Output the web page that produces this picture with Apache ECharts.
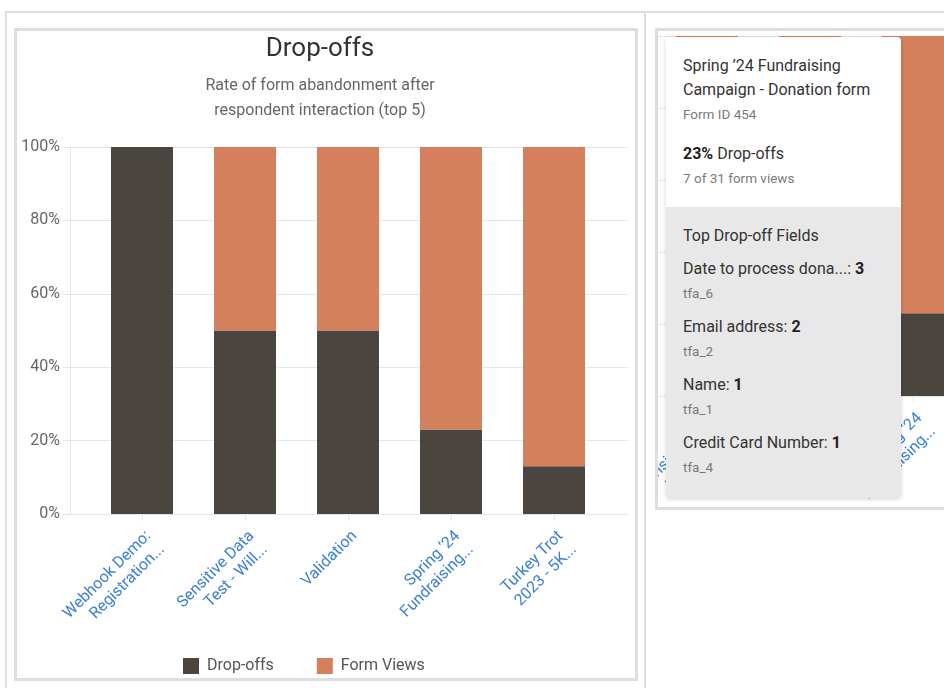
<!DOCTYPE html>
<html>
<head>
<meta charset="utf-8">
<title>Drop-offs</title>
<script src="https://cdn.jsdelivr.net/npm/echarts@6/dist/echarts.min.js"></script>
<style>
  html, body { margin: 0; padding: 0; background: #fff; }
  body { width: 944px; height: 688px; position: relative; overflow: hidden; font-family: Roboto, "Noto Sans", sans-serif; }
  .rule { position: absolute; background: #dedede; }
  .card { position: absolute; border: 3px solid #dedede; background: #fff; overflow: hidden; box-sizing: content-box; }
  #mainChart { position: absolute; left: 0; top: 0; width: 618px; height: 647px; }
  #sideChart { position: absolute; left: -158px; top: 0; width: 650px; height: 476px; }
  .tip { position: absolute; left: 666px; top: 37px; width: 235px; height: 461px; border-radius: 4px;
         box-shadow: 0 1px 4px rgba(0,0,0,0.18); overflow: hidden; color: #333; font-size: 16px; }
  .tip .head { background: #fff; padding: 17px 17px 17px 17px; }
  .tip .body { background: #e8e8e8; padding: 17px 17px 0 17px; height: 300px; }
  .tip .l { line-height: 24px; white-space: nowrap; }
  .tip .s { font-size: 13.5px; color: #7a7a7a; line-height: 24px; }
  .tip .gap { height: 16px; }
  .tip .f { margin-top: 8px; }
  .tip .f .l, .tip .f .s { line-height: 25px; }
  .tip b { font-weight: 700; color: #222; }
</style>
</head>
<body>
<div class="rule" style="left:5px;top:11px;width:939px;height:2px"></div>
<div class="rule" style="left:5px;top:11px;width:2px;height:677px"></div>
<div class="rule" style="left:644px;top:11px;width:2px;height:677px"></div>

<div class="card" style="left:14px;top:28px;width:618px;height:647px">
  <div id="mainChart"></div>
</div>
<div class="card" style="left:655px;top:28px;width:300px;height:476px;border-right:none">
  <div id="sideChart"></div>
</div>
<div class="tip" id="tip"></div>

<script>
// Drop-off rates (percent of form views) for the top five forms
const categories = [
  'Webhook Demo:\nRegistration...',
  'Sensitive Data\nTest - Will...',
  'Validation',
  'Spring \u201924\nFundraising...',
  'Turkey Trot\n2023 - 5K...'
];
const dropOffs = [100, 50, 50, 23, 13];
const formViews = [0, 50, 50, 77, 87];
const seriesNames = ['Drop-offs', 'Form Views'];
const yMin = 0, yMax = 100, yStep = 20;

// Detail card for the hovered form
const tipTitleLines = ['Spring \u201924 Fundraising', 'Campaign - Donation form'];
const tipFormId = 'Form ID 454';
const tipDropped = 7;
const tipViews = 31;
const tipRate = 23;
const tipFieldNames = ['Date to process dona...', 'Email address', 'Name', 'Credit Card Number'];
const tipFieldCounts = [3, 2, 1, 1];
const tipFieldIds = ['tfa_6', 'tfa_2', 'tfa_1', 'tfa_4'];

const DARK = '#4a463f';
const ORANGE = '#d4805c';
const GRID_LINE = '#e2e6e9';
const LINK = '#3a7fd8';
const FONT = 'Roboto';

function buildOption(L) {
  const opt = {
    animation: false,
    textStyle: { fontFamily: FONT },
    grid: [
      { left: L.axisLeft, right: L.axisRight, top: L.top, bottom: L.bottom, containLabel: false, outerBoundsMode: 'none' },
      { left: L.barLeft, right: L.barRight, top: L.top, bottom: L.bottom, containLabel: false, outerBoundsMode: 'none' }
    ],
    xAxis: [
      { gridIndex: 0, type: 'category', data: categories, show: false },
      {
        gridIndex: 1, type: 'category', data: categories,
        axisLine: { show: false },
        axisTick: { show: true, alignWithLabel: true, length: 7, lineStyle: { color: GRID_LINE, width: 1 } },
        axisLabel: { rotate: 45, color: LINK, fontSize: 16, fontFamily: FONT, margin: 13, interval: 0,
                     lineHeight: 19, verticalAlign: 'top' }
      }
    ],
    yAxis: [
      {
        gridIndex: 0, type: 'value', min: yMin, max: yMax, interval: yStep,
        axisLine: { show: true, lineStyle: { color: GRID_LINE, width: 1 } },
        axisTick: { show: true, length: 7, lineStyle: { color: GRID_LINE, width: 1 } },
        splitLine: { show: true, lineStyle: { color: GRID_LINE, width: 1 } },
        axisLabel: { formatter: '{value}%', color: '#666', fontSize: 16, fontFamily: FONT, margin: 10 }
      },
      { gridIndex: 1, type: 'value', min: yMin, max: yMax, interval: yStep, show: false }
    ],
    series: [
      { name: seriesNames[0], type: 'bar', stack: 'rate', xAxisIndex: 1, yAxisIndex: 1,
        barWidth: 62, data: dropOffs, itemStyle: { color: DARK } },
      { name: seriesNames[1], type: 'bar', stack: 'rate', xAxisIndex: 1, yAxisIndex: 1,
        barWidth: 62, data: formViews, itemStyle: { color: ORANGE } }
    ]
  };
  if (L.withHeader) {
    opt.title = [
      { text: 'Drop-offs', left: 303, top: 4, textAlign: 'center', padding: 0,
        textStyle: { fontSize: 26, fontWeight: 'normal', color: '#333', fontFamily: FONT, lineHeight: 28 } },
      { text: 'Rate of form abandonment after\nrespondent interaction (top 5)', left: 303, top: 42, textAlign: 'center', padding: 0,
        textStyle: { fontSize: 16, fontWeight: 'normal', color: '#666', fontFamily: FONT, lineHeight: 25 } }
    ];
    opt.legend = {
      data: seriesNames, left: 166, top: 627, padding: 0, icon: 'rect',
      itemWidth: 16, itemHeight: 16, itemGap: 43,
      textStyle: { fontSize: 16, color: '#555', fontFamily: FONT, padding: [0, 0, 0, 3] }
    };
  }
  return opt;
}

const mainChart = echarts.init(document.getElementById('mainChart'), null, { renderer: 'canvas' });
mainChart.setOption(buildOption({
  withHeader: true, axisLeft: 53, axisRight: 7, barLeft: 73.5, barRight: 29.5, top: 116, bottom: 164
}));

const sideChart = echarts.init(document.getElementById('sideChart'), null, { renderer: 'canvas' });
sideChart.setOption(buildOption({
  withHeader: false, axisLeft: 32, axisRight: 60, barLeft: 52.5, barRight: 82.5, top: 5, bottom: 111
}));

// Detail card content
(function () {
  const tip = document.getElementById('tip');
  let head = '<div class="head">';
  tipTitleLines.forEach(t => { head += '<div class="l">' + t + '</div>'; });
  head += '<div class="s">' + tipFormId + '</div>';
  head += '<div class="gap"></div>';
  head += '<div class="l"><b>' + tipRate + '%</b> Drop-offs</div>';
  head += '<div class="s">' + tipDropped + ' of ' + tipViews + ' form views</div>';
  head += '</div>';
  let body = '<div class="body"><div class="l">Top Drop-off Fields</div>';
  tipFieldNames.forEach((n, i) => {
    body += '<div class="f"><div class="l">' + n + ': <b>' + tipFieldCounts[i] + '</b></div>' +
            '<div class="s">' + tipFieldIds[i] + '</div></div>';
  });
  body += '</div>';
  tip.innerHTML = head + body;
})();
</script>
</body>
</html>
